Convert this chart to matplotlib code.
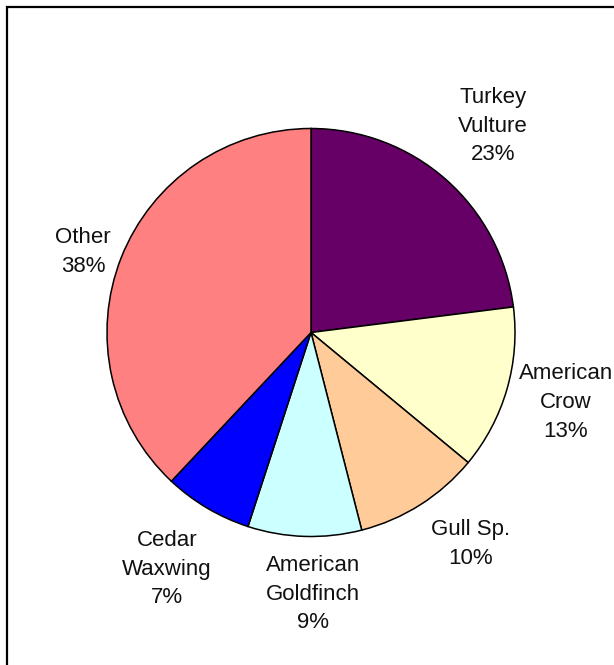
import numpy as np
import matplotlib.pyplot as plt
from matplotlib.patches import Rectangle

# Bird sightings share by species
species = ['Turkey\nVulture', 'American\nCrow', 'Gull Sp.', 'American\nGoldfinch',
           'Cedar\nWaxwing', 'Other']
shares = [23, 13, 10, 9, 7, 38]
colors = ['#660066', '#FFFFCC', '#FFCC99', '#CCFFFF', '#0000FF', '#FF8080']

# label offset from the centre (multiple of radius) and angular nudge in degrees
label_dist = [1.348, 1.296, 1.30, 1.282, 1.357, 1.185]
label_nudge = [0.0, 0.85, 4.6, 2.2, -0.7, 2.2]

plt.rcParams['font.family'] = ['Liberation Sans', 'DejaVu Sans']

W, H = 614, 665
fig = plt.figure(figsize=(W / 100, H / 100), dpi=100)
ax = fig.add_axes([0, 0, 1, 1])

cx, cy, R = 311, H - 332.5, 204
wedges, _ = ax.pie(shares, colors=colors, startangle=90, counterclock=False,
                   center=(cx, cy), radius=R,
                   wedgeprops=dict(edgecolor='black', linewidth=1.1))

for w, name, val, d, nudge in zip(wedges, species, shares, label_dist, label_nudge):
    mid = np.deg2rad((w.theta1 + w.theta2) / 2 + nudge)
    x = cx + d * R * np.cos(mid)
    y = cy + d * R * np.sin(mid)
    ax.text(x, y, f'{name}\n{val}%', ha='center', va='center',
            fontsize=16, color='#111111', linespacing=1.48)

ax.set_xlim(0, W)
ax.set_ylim(0, H)
ax.set_aspect('equal')
ax.axis('off')

# chart area frame
fig.patches.append(Rectangle((7 / W, -0.1), 1.2, 1.1 - 6.5 / H,
                             transform=fig.transFigure, fill=False,
                             edgecolor='black', linewidth=1.6))

fig.savefig('out.png', dpi=100)
